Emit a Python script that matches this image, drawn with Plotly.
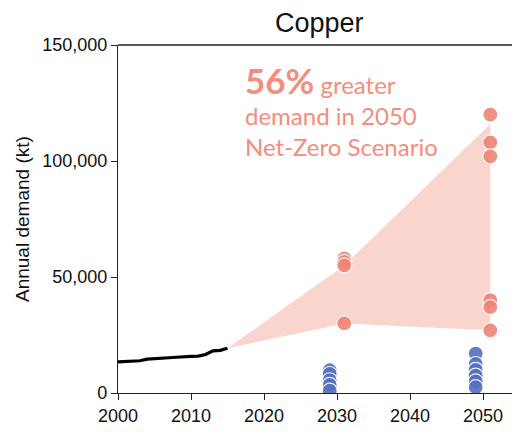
import plotly.graph_objects as go

# Historical copper demand (kt)
hist_years = list(range(2000, 2016))
hist_demand = [13400, 13500, 13600, 13900, 14600, 14900, 15000, 15200,
               15400, 15700, 15800, 15900, 16600, 18200, 18400, 19300]

# Scenario outcomes by target year (kt); higher values listed first so
# lower markers sit on top
scenario_years = [2030, 2050]
red_2030 = [58000, 56500, 55000, 30000]
red_2050 = [120000, 108000, 102000, 40000, 37000, 27000]
blue_2030 = [9800, 8200, 5500, 3500, 1000]
blue_2050 = [17000, 12500, 10000, 7500, 5000, 2500]

# Projected demand envelope (kt): start, 2030, 2050
envelope_upper = [19300, 55000, 116000]
envelope_lower = [19300, 30000, 27000]

# styling
DODGE = 1.0
RED = "#EE8474"
BLUE = "#5670BE"
FILL = "#F9D5CD"
TEXT_RED = "#F48D7B"

fig = go.Figure()

# envelope polygon from the last historical year to the scenario years
env_x = [hist_years[-1], scenario_years[0] + DODGE, scenario_years[1] + DODGE]
poly_x = env_x + env_x[::-1]
poly_y = envelope_upper + envelope_lower[::-1]
fig.add_trace(go.Scatter(x=poly_x, y=poly_y, mode="lines", fill="toself",
                         fillcolor=FILL, line=dict(width=0, color=FILL),
                         hoverinfo="skip", showlegend=False))

fig.add_trace(go.Scatter(x=hist_years, y=hist_demand, mode="lines",
                         line=dict(color="black", width=3.2),
                         showlegend=False))

for vals, yr in ((red_2030, scenario_years[0]), (red_2050, scenario_years[1])):
    fig.add_trace(go.Scatter(x=[yr + DODGE] * len(vals), y=vals, mode="markers",
                             marker=dict(size=15, color=RED, opacity=0.9,
                                         line=dict(color="white", width=1.2)),
                             showlegend=False))

for vals, yr in ((blue_2030, scenario_years[0]), (blue_2050, scenario_years[1])):
    fig.add_trace(go.Scatter(x=[yr - DODGE] * len(vals), y=vals, mode="markers",
                             marker=dict(size=15, color=BLUE, opacity=0.9,
                                         line=dict(color="white", width=1.2)),
                             showlegend=False))

x_right = 2000 + 394 / 7.3

fig.update_layout(
    width=512, height=432,
    margin=dict(l=118, r=0, t=45, b=39),
    paper_bgcolor="white", plot_bgcolor="white",
    font=dict(family="Liberation Sans, Arial, sans-serif", color="#111"),
    separators=".,",
    xaxis=dict(range=[2000, x_right], tickvals=[2000, 2010, 2020, 2030, 2040, 2050],
               showgrid=False, zeroline=False, showline=True, linecolor="#222",
               linewidth=1.3, ticks="outside", ticklen=6, tickcolor="#222",
               tickfont=dict(size=18, color="#111")),
    yaxis=dict(range=[0, 150000], tickvals=[0, 50000, 100000, 150000],
               tickformat=",d", showgrid=False, zeroline=False, showline=True,
               linecolor="#222", linewidth=1.3, ticks="outside", ticklen=6,
               tickcolor="#222", tickfont=dict(size=18, color="#111")),
    shapes=[dict(type="line", xref="paper", yref="paper", x0=0, x1=1, y0=1, y1=1,
                 line=dict(color="#222", width=1.3))],
    annotations=[
        dict(text="Copper", xref="paper", yref="paper", x=(319 - 118) / 394, y=1,
             yanchor="bottom", xanchor="center", yshift=5, showarrow=False,
             font=dict(size=27, color="#111")),
        dict(text="Annual demand (kt)", xref="paper", yref="paper",
             x=(22 - 118) / 394, y=0.5, textangle=-90, showarrow=False,
             xanchor="center", yanchor="middle", font=dict(size=19, color="#111")),
        dict(text="<b style='font-size:35px'>56%</b> greater<br>demand in 2050<br>Net-Zero Scenario",
             xref="paper", yref="paper", x=(243 - 118) / 394, y=1 - (57 - 45) / 348,
             xanchor="left", yanchor="top", align="left", showarrow=False,
             font=dict(family="Lato, sans-serif", size=24, color=TEXT_RED)),
    ],
)

fig.write_html("out.html")
